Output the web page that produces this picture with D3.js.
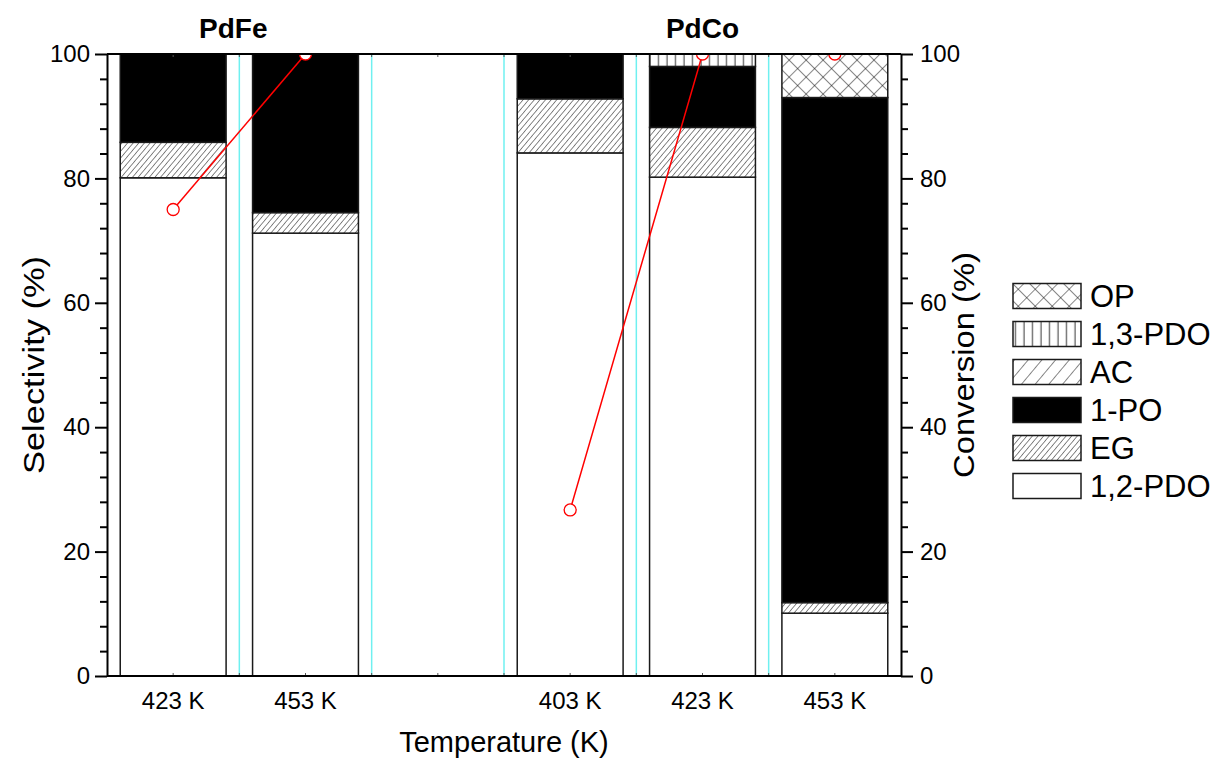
<!DOCTYPE html>
<html><head><meta charset="utf-8">
<script src="https://cdn.jsdelivr.net/npm/d3@7"></script>
<style>body{margin:0;background:#fff}svg{display:block;font-family:"Liberation Sans",Arial,sans-serif}</style>
</head><body><svg id="c" width="1217" height="758"></svg>
<script>
// ---- data ----
const slots = ["s1","s2","gap","s3","s4","s5"];
const groups = ["PdFe","PdFe","","PdCo","PdCo","PdCo"];
const tempLabels = ["423 K","453 K","","403 K","423 K","453 K"];
const groupTitles = ["PdFe","PdCo"];
const seriesNames = ["1,2-PDO","EG","1-PO","AC","1,3-PDO","OP"];
const pdo12 = [80.1, 71.2, null, 84.1, 80.2, 10.1];
const eg    = [5.7,  3.3,  null, 8.7,  8.0,  1.7];
const po1   = [14.2, 25.5, null, 7.2,  9.8,  81.2];
const ac    = [0,    0,    null, 0,    0,    0];
const pdo13 = [0,    0,    null, 0,    2.0,  0];
const op    = [0,    0,    null, 0,    0,    7.0];
const conversion = [75.0, 100, null, 26.7, 100, 100];
const yTicks = [0,20,40,60,80,100];
const yMinorTicks = d3.range(0,101,4).filter(v=>v%20!==0);
const legendOrder = ["OP","1,3-PDO","AC","1-PO","EG","1,2-PDO"];

// ---- layout ----
const W=1217,H=758;
const L=107,R=901,T=54,B=676;
const svg=d3.select("#c");
const x=d3.scaleBand().domain(slots).range([L,R]).paddingInner(0.2).paddingOuter(0.1);
const y=d3.scaleLinear().domain([0,100]).range([B,T]);
const step=x.step();

// patterns
const defs=svg.append("defs");
function hatch(id,w,angle,color,sw){
  const p=defs.append("pattern").attr("id",id).attr("patternUnits","userSpaceOnUse")
    .attr("width",w).attr("height",w).attr("patternTransform",`rotate(${angle})`);
  p.append("rect").attr("width",w).attr("height",w).attr("fill","#fff");
  p.append("line").attr("x1",0).attr("y1",0).attr("x2",0).attr("y2",w).attr("stroke",color).attr("stroke-width",sw);
  return p;
}
hatch("pEG",4.3,40,"#111",1);
hatch("pAC",10.5,40,"#111",1);
const pv=defs.append("pattern").attr("id","pPDO13").attr("patternUnits","userSpaceOnUse").attr("width",8.5).attr("height",10);
pv.append("rect").attr("width",8.5).attr("height",10).attr("fill","#fff");
pv.append("line").attr("x1",4).attr("y1",0).attr("x2",4).attr("y2",10).attr("stroke","#333").attr("stroke-width",1);
const pc=hatch("pOP",12,45,"#111",1);
pc.append("line").attr("x1",0).attr("y1",0).attr("x2",12).attr("y2",0).attr("stroke","#111").attr("stroke-width",1);
defs.append("clipPath").attr("id","plotClip").append("rect").attr("x",L).attr("y",T).attr("width",R-L).attr("height",B-T);

const fills={"1,2-PDO":"#fff","EG":"url(#pEG)","1-PO":"#000","AC":"url(#pAC)","1,3-PDO":"url(#pPDO13)","OP":"url(#pOP)"};
const valuesBy={"1,2-PDO":pdo12,"EG":eg,"1-PO":po1,"AC":ac,"1,3-PDO":pdo13,"OP":op};

// cyan separators
svg.append("g").selectAll("line").data(slots.slice(1)).join("line")
  .attr("x1",d=>x(d)-step*x.paddingInner()/2).attr("x2",d=>x(d)-step*x.paddingInner()/2)
  .attr("y1",T).attr("y2",B).attr("stroke","#6ff0f0").attr("stroke-width",1.5);

// stacked bars
const rows=slots.map((s,i)=>{const r={slot:s};seriesNames.forEach(n=>r[n]=valuesBy[n][i]);return r;})
  .filter(r=>r["1,2-PDO"]!==null);
const stack=d3.stack().keys(seriesNames)(rows);
const bars=svg.append("g");
stack.forEach(layer=>{
  bars.append("g").selectAll("rect").data(layer.filter(d=>d[1]-d[0]>0)).join("rect")
    .attr("x",d=>x(d.data.slot)).attr("width",x.bandwidth())
    .attr("y",d=>y(d[1])).attr("height",d=>y(d[0])-y(d[1]))
    .attr("fill",fills[layer.key]).attr("stroke","#1a1a1a").attr("stroke-width",1.5);
});

// small inner ticks on top/bottom frame
const tickXs=[];
slots.forEach((s,i)=>{tickXs.push(x(s)+x.bandwidth()/2); if(i>0) tickXs.push(x(s)-step*x.paddingInner()/2);});
svg.append("g").selectAll("line").data(tickXs).join("line")
  .attr("x1",d=>d).attr("x2",d=>d).attr("y1",T).attr("y2",T+3).attr("stroke","#555").attr("stroke-width",1);
svg.append("g").selectAll("line").data(tickXs).join("line")
  .attr("x1",d=>d).attr("x2",d=>d).attr("y1",B).attr("y2",B-3).attr("stroke","#555").attr("stroke-width",1);

// conversion lines & markers
const conv=svg.append("g").attr("clip-path","url(#plotClip)");
groupTitles.forEach(g=>{
  const pts=slots.map((s,i)=>({s,v:conversion[i],g:groups[i]})).filter(p=>p.g===g&&p.v!==null);
  conv.append("path").datum(pts)
    .attr("d",d3.line().x(p=>x(p.s)+x.bandwidth()/2).y(p=>y(p.v)))
    .attr("fill","none").attr("stroke","#f00").attr("stroke-width",1.5);
  conv.append("g").selectAll("circle").data(pts).join("circle")
    .attr("cx",p=>x(p.s)+x.bandwidth()/2).attr("cy",p=>y(p.v)).attr("r",6)
    .attr("fill","#fff").attr("stroke","#f00").attr("stroke-width",1.3);
});

// frame lines top / bottom
svg.append("line").attr("x1",L).attr("x2",R).attr("y1",B).attr("y2",B).attr("stroke","#000").attr("stroke-width",2);
svg.append("line").attr("x1",L).attr("x2",R).attr("y1",T).attr("y2",T).attr("stroke","#000").attr("stroke-width",2);

// y axes
function styleAxis(g){g.select(".domain").attr("stroke","#000").attr("stroke-width",2);
  g.selectAll(".tick line").attr("stroke","#000").attr("stroke-width",2);
  g.selectAll("text").attr("font-size",24).attr("fill","#000").attr("font-family","Liberation Sans, Arial, sans-serif");}
const yl=svg.append("g").attr("transform",`translate(${L},0)`)
  .call(d3.axisLeft(y).tickValues(yTicks).tickSize(12).tickPadding(5).tickSizeOuter(0));
styleAxis(yl);
svg.append("g").attr("transform",`translate(${L},0)`)
  .call(d3.axisLeft(y).tickValues(yMinorTicks).tickSize(7).tickFormat("").tickSizeOuter(0))
  .call(g=>{g.select(".domain").remove();g.selectAll("line").attr("stroke","#000").attr("stroke-width",2);});
const yr=svg.append("g").attr("transform",`translate(${R},0)`)
  .call(d3.axisRight(y).tickValues(yTicks).tickSize(12).tickPadding(7).tickSizeOuter(0));
styleAxis(yr);
svg.append("g").attr("transform",`translate(${R},0)`)
  .call(d3.axisRight(y).tickValues(yMinorTicks).tickSize(7).tickFormat("").tickSizeOuter(0))
  .call(g=>{g.select(".domain").remove();g.selectAll("line").attr("stroke","#000").attr("stroke-width",2);});

// x labels
svg.append("g").selectAll("text").data(slots.map((s,i)=>({s,t:tempLabels[i]})).filter(d=>d.t)).join("text")
  .attr("x",d=>x(d.s)+x.bandwidth()/2).attr("y",709).attr("text-anchor","middle")
  .attr("font-size",24).text(d=>d.t);

// group titles
groupTitles.forEach(g=>{
  const xs=slots.filter((s,i)=>groups[i]===g).map(s=>x(s)+x.bandwidth()/2);
  svg.append("text").attr("x",d3.mean(xs)-(g==="PdFe"?6:0)).attr("y",38).attr("text-anchor","middle")
    .attr("font-size",28).attr("font-weight","bold").text(g);
});

// axis titles
svg.append("text").attr("x",(L+R)/2).attr("y",752).attr("text-anchor","middle").attr("font-size",29).text("Temperature (K)");
svg.append("text").attr("transform",`translate(44,${(T+B)/2}) rotate(-90)`).attr("text-anchor","middle").attr("font-size",30)
  .attr("textLength",218).attr("lengthAdjust","spacingAndGlyphs").text("Selectivity (%)");
svg.append("text").attr("transform",`translate(974,${(T+B)/2}) rotate(-90)`).attr("text-anchor","middle").attr("font-size",30)
  .attr("textLength",226).attr("lengthAdjust","spacingAndGlyphs").text("Conversion (%)");

// legend
const lg=svg.append("g");
legendOrder.forEach((n,i)=>{
  const cy=296+i*38;
  lg.append("rect").attr("x",1013).attr("y",cy-12.5).attr("width",68).attr("height",25)
    .attr("fill",fills[n]).attr("stroke","#1a1a1a").attr("stroke-width",1.5);
  lg.append("text").attr("x",1090).attr("y",cy).attr("dy","0.36em").attr("font-size",31).text(n);
});
</script></body></html>
